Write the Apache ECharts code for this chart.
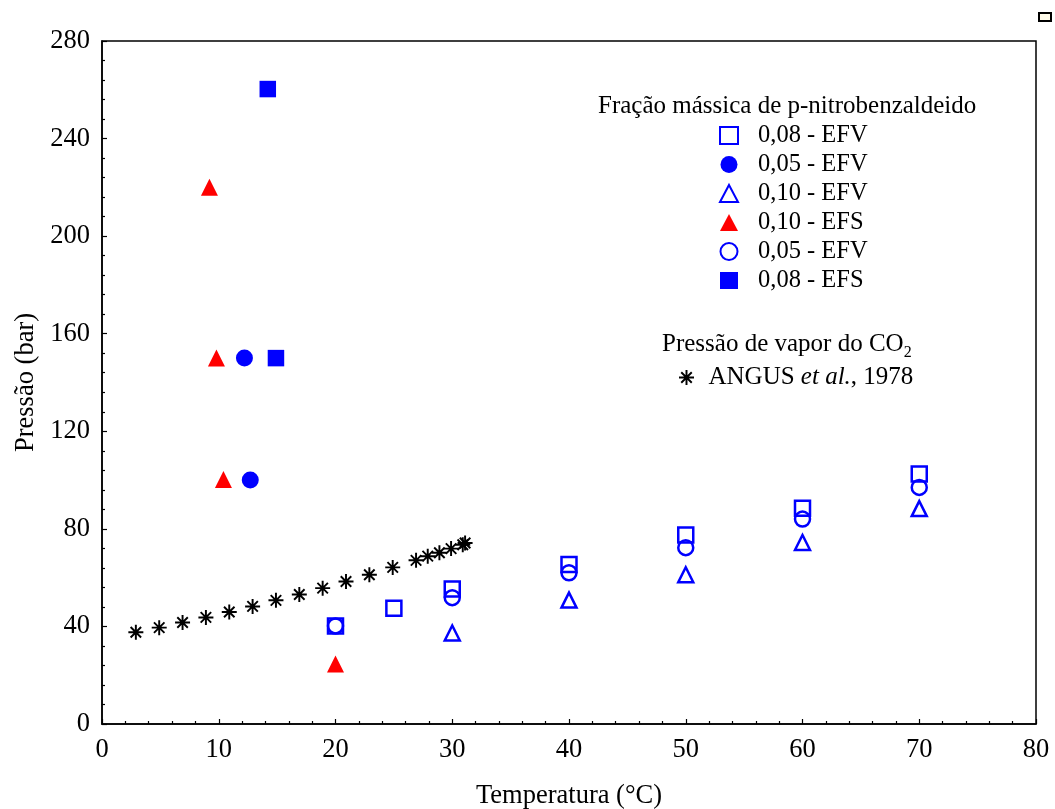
<!DOCTYPE html>
<html>
<head>
<meta charset="utf-8">
<script src="https://cdn.jsdelivr.net/npm/echarts@6/dist/echarts.min.js"></script>
<style>
  html, body { margin: 0; padding: 0; background: #fff; }
  #chart { width: 1055px; height: 809px; }
</style>
</head>
<body>
<div id="chart"></div>
<script>
// Temperature (°C) / pressure (bar) pairs for each data set
const efv08Open = [[20, 40.2], [25, 47.5], [30, 55.3], [40, 65.4], [50, 77.5], [60, 88.4], [70, 102.5]];
const efv05Filled = [[12.2, 150], [12.7, 100]];
const efv10Open = [[30, 37.3], [40, 50.8], [50, 61.2], [60, 74.4], [70, 88.3]];
const efs10Filled = [[9.2, 220], [9.8, 150], [10.4, 100.2], [20, 24.6]];
const efv05Open = [[20, 40.2], [30, 51.8], [40, 62.0], [50, 72.3], [60, 84.0], [70, 97.0]];
const efs08Filled = [[14.2, 260.3], [14.9, 150]];
// CO2 vapour pressure (ANGUS et al., 1978)
const angusCO2 = [[2.9, 37.6], [4.9, 39.5], [6.9, 41.6], [8.9, 43.7], [10.9, 45.9], [12.9, 48.2],
  [14.9, 50.7], [16.9, 53.1], [18.9, 55.7], [20.9, 58.4], [22.9, 61.2], [24.9, 64.2],
  [26.9, 67.1], [27.9, 68.8], [28.9, 70.2], [29.9, 71.9], [30.9, 73.5], [31.1, 74.2]];

const xTicks = { min: 0, max: 80, step: 10 };
const yTicks = { min: 0, max: 280, step: 40 };

const legendLabels = {
  s1: '0,08 - EFV', s2: '0,05 - EFV', s3: '0,10 - EFV',
  s4: '0,10 - EFS', s5: '0,05 - EFV', s6: '0,08 - EFS'
};

const BLUE = '#0000ff';
const RED = '#ff0000';
const FONT = '"Liberation Serif", "DejaVu Serif", serif';

// eight-armed asterisk marker
const ASTERISK = 'path://M-0.13,-1 L0.13,-1 L0.13,1 L-0.13,1 Z M-1,-0.13 L1,-0.13 L1,0.13 L-1,0.13 Z ' +
  'M-0.61,-0.79 L0.79,0.61 L0.61,0.79 L-0.79,-0.61 Z M-0.79,0.61 L0.61,-0.79 L0.79,-0.61 L-0.61,0.79 Z';

const hollow = (sym, size) => ({
  type: 'scatter', symbol: sym, symbolSize: size,
  itemStyle: { color: 'rgba(0,0,0,0)', borderColor: BLUE, borderWidth: 2.5, opacity: 1 }
});
const solid = (sym, size, color) => ({
  type: 'scatter', symbol: sym, symbolSize: size, itemStyle: { color: color, opacity: 1 }
});

const chart = echarts.init(document.getElementById('chart'), null, { renderer: 'canvas' });

chart.setOption({
  animation: false,
  backgroundColor: '#fff',
  textStyle: { fontFamily: FONT },
  grid: {
    left: 102, right: 19, top: 41, bottom: 85,
    outerBoundsMode: 'none', containLabel: false,
    show: true, borderColor: '#000', borderWidth: 1.5, backgroundColor: '#fff'
  },
  xAxis: {
    type: 'value', min: xTicks.min, max: xTicks.max, interval: xTicks.step,
    name: 'Temperatura (°C)', nameLocation: 'middle', nameGap: 59,
    nameTextStyle: { fontFamily: FONT, fontSize: 26.5, color: '#000' },
    axisLine: { show: true, lineStyle: { color: '#000', width: 1.5 } },
    axisTick: { show: true, inside: true, length: 5, lineStyle: { color: '#000', width: 1.2 } },
    minorTick: { show: true, splitNumber: 5, length: 3, lineStyle: { color: '#000', width: 1.2 } },
    splitLine: { show: false },
    axisLabel: { fontFamily: FONT, fontSize: 26.5, color: '#000', margin: 13 }
  },
  yAxis: {
    type: 'value', min: yTicks.min, max: yTicks.max, interval: yTicks.step,
    name: 'Pressão (bar)', nameLocation: 'middle', nameGap: 53,
    nameTextStyle: { fontFamily: FONT, fontSize: 26.5, color: '#000' },
    axisLine: { show: true, lineStyle: { color: '#000', width: 1.5 } },
    axisTick: { show: true, inside: true, length: 5, lineStyle: { color: '#000', width: 1.2 } },
    minorTick: { show: true, splitNumber: 5, length: 3, lineStyle: { color: '#000', width: 1.2 } },
    splitLine: { show: false },
    axisLabel: { fontFamily: FONT, fontSize: 26.5, color: '#000', margin: 12 }
  },
  legend: [
    {
      data: ['s1', 's2', 's3', 's4', 's5', 's6'],
      orient: 'vertical', left: 714, top: 118,
      itemWidth: 18, itemHeight: 17, itemGap: 4,
      formatter: (n) => legendLabels[n],
      textStyle: { fontFamily: FONT, fontSize: 24.5, color: '#000', padding: [0, 0, 0, 15] },
      selectedMode: false
    },
    {
      data: ['ANGUS'],
      left: 674, top: 360,
      itemWidth: 18, itemHeight: 15,
      formatter: () => '{a|ANGUS }{i|et al.}{a|, 1978}',
      textStyle: {
        fontFamily: FONT, fontSize: 25, color: '#000', padding: [0, 0, 0, 8],
        rich: {
          a: { fontFamily: FONT, fontSize: 25, color: '#000' },
          i: { fontFamily: FONT, fontSize: 25, color: '#000', fontStyle: 'italic' }
        }
      },
      selectedMode: false
    }
  ],
  graphic: [
    {
      type: 'text', left: 598, top: 94,
      style: { text: 'Fração mássica de p-nitrobenzaldeido', font: '25px ' + FONT, fill: '#000' }
    },
    {
      type: 'text', left: 662, top: 332,
      style: {
        text: '{a|Pressão de vapor do CO}{s|2}',
        rich: {
          a: { font: '25px ' + FONT, fill: '#000', lineHeight: 30, verticalAlign: 'bottom' },
          s: { font: '16px ' + FONT, fill: '#000', lineHeight: 22, verticalAlign: 'bottom', padding: [0, 0, -4, 0] }
        }
      }
    },
    {
      type: 'rect', right: 3, top: 12,
      shape: { width: 12, height: 8 },
      style: { fill: '#fffbea', stroke: '#000', lineWidth: 2 }
    }
  ],
  series: [
    Object.assign({ name: 's1', data: efv08Open, z: 3 }, hollow('rect', 15)),
    Object.assign({ name: 's2', data: efv05Filled, z: 3 }, solid('circle', 17, BLUE)),
    Object.assign({ name: 's3', data: efv10Open, z: 3 }, hollow('triangle', 15)),
    Object.assign({ name: 's4', data: efs10Filled, z: 3 }, solid('triangle', 17, RED)),
    Object.assign({ name: 's5', data: efv05Open, z: 4 }, hollow('circle', 15)),
    Object.assign({ name: 's6', data: efs08Filled, z: 3 }, solid('rect', 16.5, BLUE)),
    {
      name: 'ANGUS', type: 'scatter', data: angusCO2, symbol: ASTERISK, symbolSize: 15,
      itemStyle: { color: '#000', opacity: 1 }, z: 2
    }
  ]
});
</script>
</body>
</html>
